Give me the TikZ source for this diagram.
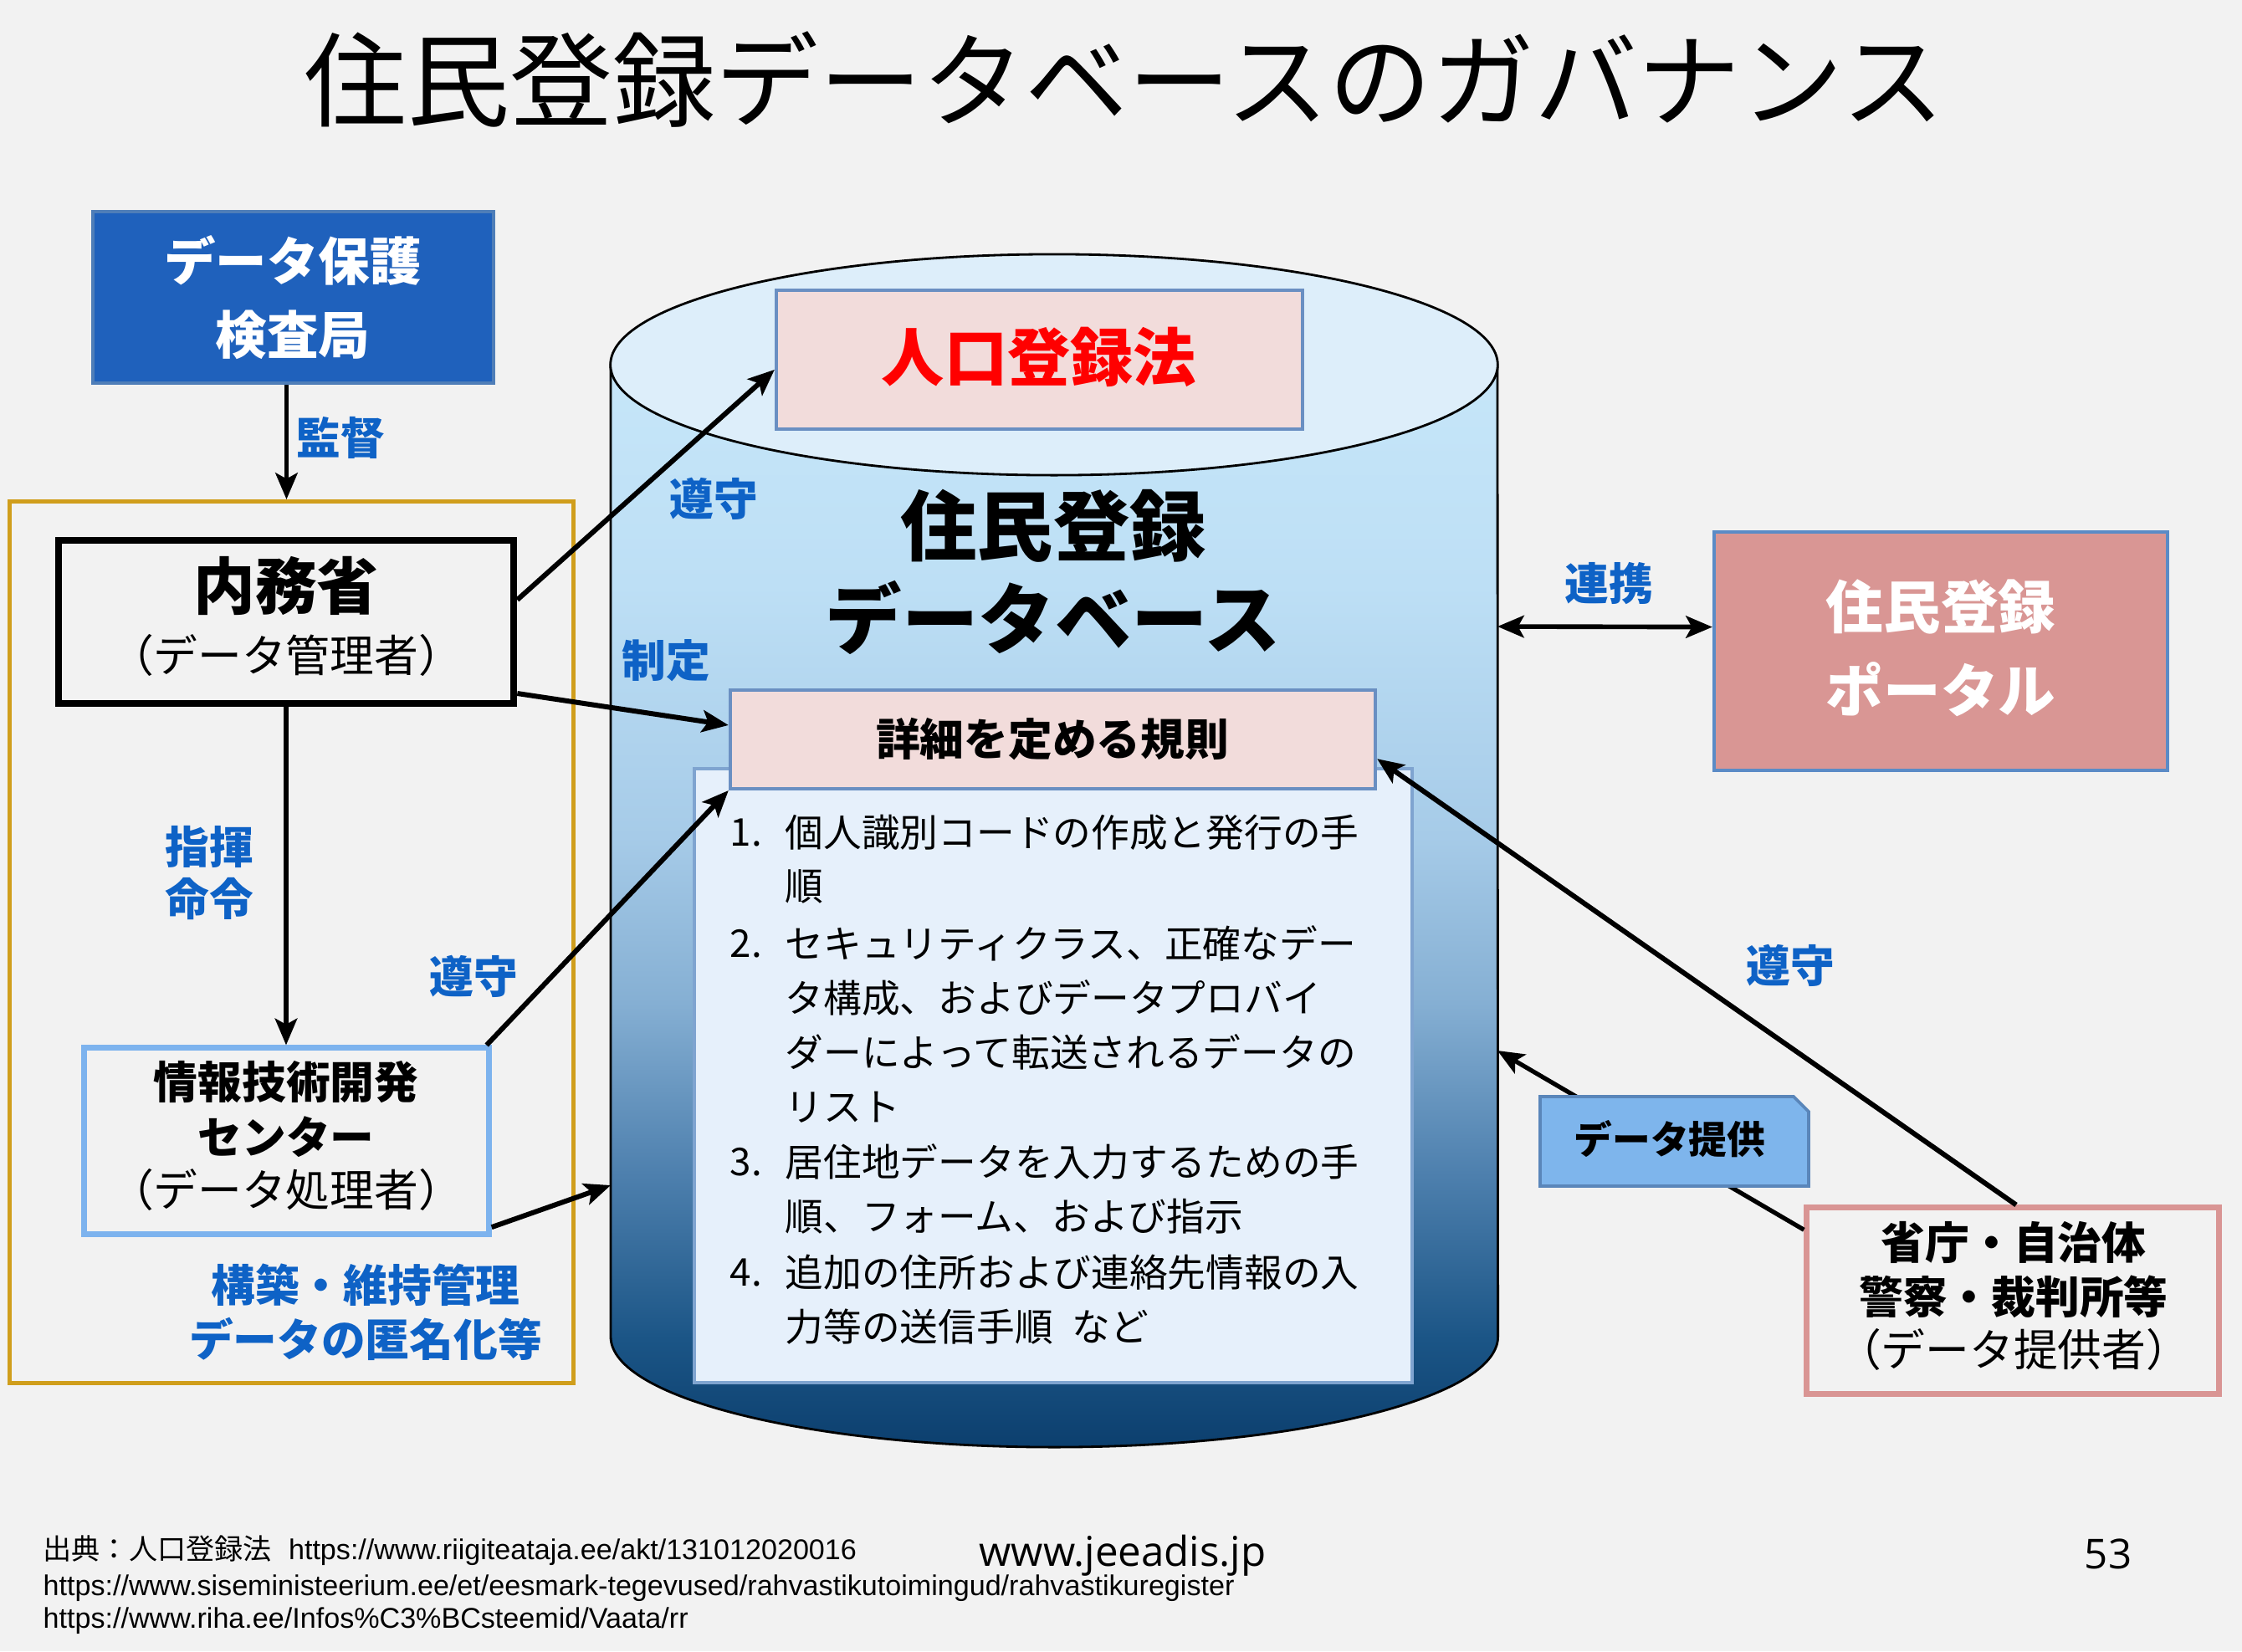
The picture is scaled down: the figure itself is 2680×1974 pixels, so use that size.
\documentclass[tikz,border=0pt]{standalone}
\usepackage{fontspec}
\setmainfont{Noto Sans CJK JP}
\newfontfamily\arialf{Liberation Sans}
\newfontfamily\opensf{Open Sans}
\usetikzlibrary{arrows.meta,calc}
\definecolor{bg}{HTML}{F2F2F2}
\definecolor{dpablue}{HTML}{1F61BC}
\definecolor{dpaborder}{HTML}{4F7EB8}
\definecolor{lblblue}{HTML}{0E62C6}
\definecolor{gold}{HTML}{D09E1C}
\definecolor{itcblue}{HTML}{7DB3EE}
\definecolor{pinkfill}{HTML}{F2DCDB}
\definecolor{boxborder}{HTML}{6A8FC2}
\definecolor{listfill}{HTML}{E6F0FB}
\definecolor{listborder}{HTML}{7FA4D0}
\definecolor{portalfill}{HTML}{D99694}
\definecolor{portalborder}{HTML}{5B8BC6}
\definecolor{provborder}{HTML}{D99594}
\definecolor{dpfill}{HTML}{7EB5EC}
\definecolor{dpborder}{HTML}{5A86BA}
\definecolor{cyltop}{HTML}{DDEEFA}
\definecolor{cylA}{HTML}{0C3F6E}
\definecolor{cylB}{HTML}{1B5586}
\definecolor{cylC}{HTML}{4E80AE}
\definecolor{cylD}{HTML}{85AFD3}
\definecolor{cylE}{HTML}{A6CBE8}
\definecolor{cylF}{HTML}{BDDFF5}
\definecolor{cylG}{HTML}{C6E6F9}
\pgfdeclareverticalshading{cylshade}{100bp}{color(0bp)=(cylA); color(25bp)=(cylA); color(30bp)=(cylB); color(37.7bp)=(cylC); color(45.5bp)=(cylD); color(53.2bp)=(cylE); color(64.8bp)=(cylF); color(75bp)=(cylG); color(100bp)=(cylG)}
\newcommand{\fsz}[1]{\fontsize{#1}{#1}\selectfont}
\begin{document}
\begin{tikzpicture}[x=0.01cm, y=-0.01cm,
  txt/.style={inner sep=0pt, anchor=center},
  lbl/.style={txt, text=lblblue, font=\fsz{15}\bfseries},
  arr/.style={line width=1.7pt, -{Stealth[length=9pt,width=7.5pt,inset=2pt]}},
  dpabox/.style={fill=dpablue, draw=dpaborder, line width=1.2pt, inner sep=0pt},
  naimubox/.style={draw=black, line width=2.4pt, inner sep=0pt},
  itcbox/.style={draw=itcblue, line width=2pt, inner sep=0pt},
  pinkbox/.style={fill=pinkfill, draw=boxborder, line width=1.1pt, inner sep=0pt},
  listbox/.style={fill=listfill, draw=listborder, line width=1.1pt, inner sep=0pt},
  portalbox/.style={fill=portalfill, draw=portalborder, line width=1.1pt, inner sep=0pt},
  provbox/.style={draw=provborder, line width=2pt, inner sep=0pt},
  orgbox/.style={draw=gold, line width=1.5pt, inner sep=0pt},
  listline/.style={inner sep=0pt, anchor=west, font=\fsz{13}},
]
\fill[bg] (0,0) rectangle (2680,1974);
\useasboundingbox (0,0) rectangle (2680,1974);

% title
\node[txt, font=\fsz{35}] (title) at (1344,95) {住民登録データベースのガバナンス};

% organisation frame
\node[orgbox, minimum width=6.73cm, minimum height=10.53cm] (org) at (348.5,1126.5) {};

% cylinder
\path[shading=cylshade, draw=black, line width=0.8pt] (730,436) -- (730,1598)
  arc[start angle=180, end angle=360, x radius=5.3cm, y radius=1.32cm] -- (1790,436) -- cycle;
\draw[fill=cyltop, line width=0.8pt] (1260,436) ellipse [x radius=5.3cm, y radius=1.32cm];
\coordinate (cR1) at (1790,749);
\coordinate (cR2) at (1790,1256);
\coordinate (cL1) at (730,1417);

% boxes
\node[dpabox, minimum width=4.79cm, minimum height=2.05cm] (dpa) at (350.5,355.5) {};
\node[naimubox, minimum width=5.44cm, minimum height=1.95cm] (naimu) at (342,743.5) {};
\node[itcbox, minimum width=4.83cm, minimum height=2.22cm] (itc) at (342.5,1364) {};
\node[listbox, minimum width=8.58cm, minimum height=7.34cm] (list) at (1259,1286) {};
\node[pinkbox, minimum width=7.71cm, minimum height=1.18cm] (rules) at (1258.5,884) {};
\node[pinkbox, minimum width=6.29cm, minimum height=1.66cm] (law) at (1242.5,430) {};
\node[portalbox, minimum width=5.42cm, minimum height=2.85cm] (portal) at (2320,778.5) {};
\node[provbox, minimum width=4.92cm, minimum height=2.22cm] (prov) at (2406,1555) {};

% box texts
\node[txt, text=white, font=\fsz{17.5}\bfseries] (dpa1) at (350,311) {データ保護};
\node[txt, text=white, font=\fsz{17.5}\bfseries] (dpa2) at (350,400) {検査局};
\node[txt, font=\fsz{21}\bfseries] (naimu1) at (342,700) {内務省};
\node[txt, font=\fsz{15}] (naimu2) at (342,783) {（データ管理者）};
\node[txt, font=\fsz{15}\bfseries] (itc1) at (342,1294) {情報技術開発};
\node[txt, font=\fsz{15}\bfseries] (itc2) at (342,1359) {センター};
\node[txt, font=\fsz{15}] (itc3) at (342,1422) {（データ処理者）};
\node[txt, text=red, font=\fsz{21.4}\bfseries] (law1) at (1242,427) {人口登録法};
\node[txt, font=\fsz{26}\bfseries] (db1) at (1259,629) {住民登録};
\node[txt, font=\fsz{26}\bfseries] (db2) at (1259,738) {データベース};
\node[txt, font=\fsz{15}\bfseries] (rules1) at (1258,884) {詳細を定める規則};
\node[txt, text=white, font=\fsz{19.5}\bfseries] (portal1) at (2320,725) {住民登録};
\node[txt, text=white, font=\fsz{19.5}\bfseries] (portal2) at (2320,824) {ポータル};
\node[txt, font=\fsz{15}\bfseries] (prov1) at (2407,1485) {省庁・自治体};
\node[txt, font=\fsz{15}\bfseries] (prov2) at (2407,1550) {警察・裁判所等};
\node[txt, font=\fsz{15}] (prov3) at (2407,1613) {（データ提供者）};

% list
\node[listline] (n1) at (872,995) {1.};
\node[listline] (l1) at (938,995) {個人識別コードの作成と発行の手};
\node[listline] (l2) at (938,1060) {順};
\node[listline] (n2) at (872,1128) {2.};
\node[listline] (l3) at (938,1128) {セキュリティクラス、正確なデー};
\node[listline] (l4) at (938,1193) {タ構成、およびデータプロバイ};
\node[listline] (l5) at (938,1258) {ダーによって転送されるデータの};
\node[listline] (l6) at (938,1324) {リスト};
\node[listline] (n3) at (872,1389) {3.};
\node[listline] (l7) at (938,1389) {居住地データを入力するための手};
\node[listline] (l8) at (938,1454) {順、フォーム、および指示};
\node[listline] (n4) at (872,1521) {4.};
\node[listline] (l9) at (938,1521) {追加の住所および連絡先情報の入};
\node[listline] (l10) at (938,1586) {力等の送信手順\hspace{0.5em}など};

% connectors
\draw[arr] ([xshift=-0.08cm]dpa.south) -- ([xshift=-0.08cm]dpa.south |- org.north);
\draw[arr] (naimu.south) -- (naimu.south |- itc.north);
\draw[arr] ($(naimu.north east)!0.37!(naimu.south east)$) -- ($(law.north west)!0.57!(law.south west)$);
\draw[arr] ($(naimu.north east)!0.92!(naimu.south east)$) -- ($(rules.north west)!0.36!(rules.south west)$);
\draw[arr] ([xshift=-0.06cm]itc.north east) -- (rules.south west);
\draw[arr] ($(itc.north east)!0.95!(itc.south east)$) -- (cL1);
\draw[line width=1.6pt, {Stealth[length=9pt,width=7.5pt,inset=2pt]}-{Stealth[length=9pt,width=7.5pt,inset=2pt]}] (cR1) -- ($(portal.north west)!0.40!(portal.south west)$);
\draw[arr] ([xshift=0.04cm]prov.north) -- ($(rules.north east)!0.69!(rules.south east)$);
\draw[arr, line width=1.5pt] ($(prov.north west)!0.13!(prov.south west)$) -- (cR2);

% data provision tag (folded corner)
\draw[fill=dpfill, draw=dpborder, line width=1.1pt] (1841,1311) -- (2144,1311) -- (2162,1329) -- (2162,1418) -- (1841,1418) -- cycle;
\node[txt, font=\fsz{13}\bfseries] (dprovt) at (1996,1362) {データ提供};

% blue labels
\node[lbl] (kantoku) at (407,523) {監督};
\node[lbl] (shiki1) at (250,1012) {指揮};
\node[lbl] (shiki2) at (250,1075) {命令};
\node[lbl] (kouchiku1) at (437,1536) {構築・維持管理};
\node[lbl] (kouchiku2) at (437,1601) {データの匿名化等};
\node[lbl] (junshu1) at (853,596) {遵守};
\node[lbl] (seitei) at (796,790) {制定};
\node[lbl] (junshu2) at (566,1167) {遵守};
\node[lbl] (renkei) at (1923,697) {連携};
\node[lbl] (junshu3) at (2140,1154) {遵守};

% footer
\node[inner sep=0pt, anchor=west, font=\fsz{9.7}] (src1) at (51,1854) {出典：人口登録法\hspace{0.6em}{\arialf https://www.riigiteataja.ee/akt/131012020016}};
\node[inner sep=0pt, anchor=west, font=\arialf\fsz{9.7}] (src2) at (51,1899) {https://www.siseministeerium.ee/et/eesmark-tegevused/rahvastikutoimingud/rahvastikuregister};
\node[inner sep=0pt, anchor=west, font=\arialf\fsz{9.7}] (src3) at (51,1938) {https://www.riha.ee/Infos\%C3\%BCsteemid/Vaata/rr};
\node[txt, font=\opensf\fsz{14}] (site) at (1342,1860) {www.jeeadis.jp};
\node[txt, font=\opensf\fsz{14}] (page) at (2520,1858) {53};
\end{tikzpicture}
\end{document}
